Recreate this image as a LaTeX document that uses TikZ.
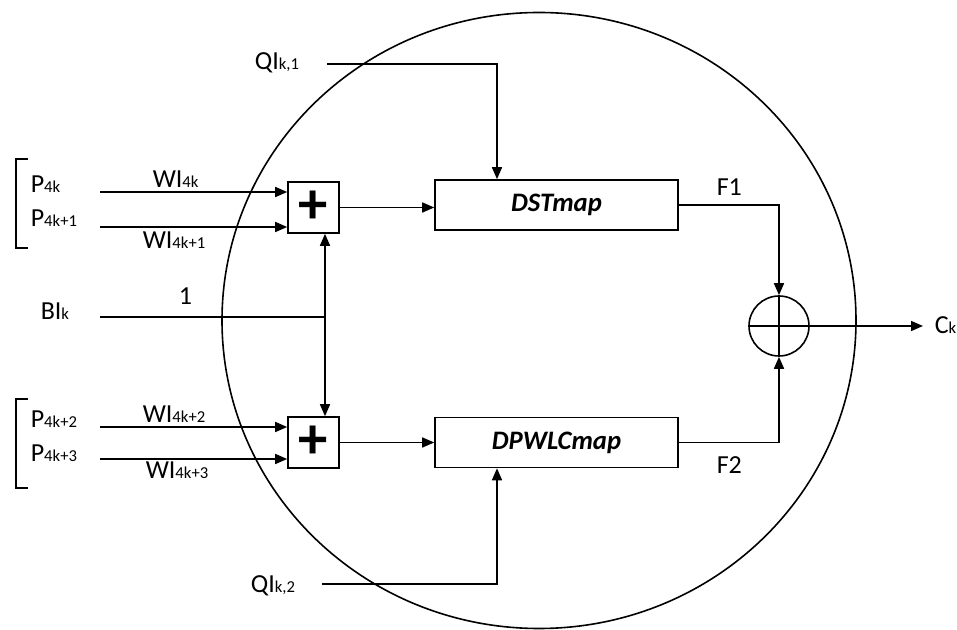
\documentclass[tikz,border=0pt]{standalone}
\usepackage{fontspec}
\setmainfont{Carlito}
\usetikzlibrary{arrows.meta,shapes.geometric}
\newcommand{\sbs}[1]{{\fontsize{12.5}{14}\selectfont #1}}
\begin{document}
\begin{tikzpicture}[x=0.75pt,y=-0.75pt,line width=1.2pt,
  arr/.style={-{Triangle[length=9pt,width=7.5pt]}},
  lbl/.style={font=\fontsize{19.5}{23}\selectfont,inner sep=0pt,anchor=base west},
  sumbox/.style={draw,fill=white,minimum width=38.25pt,minimum height=38.25pt,inner sep=0pt,font=\fontsize{44}{44}\selectfont\bfseries},
  mapbox/.style={draw,fill=white,minimum width=182.25pt,minimum height=37.5pt,inner sep=0pt,font=\fontsize{20}{24}\selectfont\bfseries\itshape},
  oplus/.style={draw,circle,minimum size=45pt,inner sep=0pt}]
\useasboundingbox (0,0) rectangle (957,630);
% enclosing ellipse
\node[ellipse,draw,minimum width=475.5pt,minimum height=462pt,inner sep=0pt] (env) at (539,320.5) {};
% blocks
\node[sumbox] (s1) at (313.5,207.5) {+};
\node[sumbox] (s2) at (313.5,442.5) {+};
\node[mapbox] (dst) at (556.5,205) {DSTmap};
\node[mapbox] (dpw) at (556.5,442.5) {DPWLCmap};
\node[oplus] (o) at (779,326) {};
% labels
\node[lbl] (lp0) at (30,193) {P\sbs{4k}};
\node[lbl] (lp1) at (30,227) {P\sbs{4k+1}};
\node[lbl] (lp2) at (30,428) {P\sbs{4k+2}};
\node[lbl] (lp3) at (30,462) {P\sbs{4k+3}};
\node[lbl] (lw0) at (152,188) {WI\sbs{4k}};
\node[lbl] (lw1) at (142,249) {WI\sbs{4k+1}};
\node[lbl] (lw2) at (142,423) {WI\sbs{4k+2}};
\node[lbl] (lw3) at (145,479) {WI\sbs{4k+3}};
\node[lbl] (lbi) at (40,320) {BI\sbs{k}};
\node[lbl] (lone) at (178,305) {1};
\node[lbl] (lq1) at (254,70) {QI\sbs{k,1}};
\node[lbl] (lq2) at (250,593) {QI\sbs{k,2}};
\node[lbl] (lf1) at (716,196) {F1};
\node[lbl] (lf2) at (716,474) {F2};
\node[lbl] (lck) at (934,334) {C\sbs{k}};
% brackets
\draw (28,159) -- (16,159) -- (16,248) -- (28,248);
\draw (28,399) -- (16,399) -- (16,488) -- (28,488);
% input coordinates
\coordinate (p0) at (100,192);
\coordinate (p1) at (100,227);
\coordinate (p2) at (100,427);
\coordinate (p3) at (100,459);
\coordinate (bi) at (100,317);
\coordinate (j) at (325,317);
\coordinate (q1) at (327,64);
\coordinate (q1c) at (497,64);
\coordinate (q2) at (322,584);
\coordinate (q2c) at (497,584);
\coordinate (ck) at (923,326);
% connectors
\draw[arr] (p0) -- (p0 -| s1.west);
\draw[arr] (p1) -- (p1 -| s1.west);
\draw[arr] (p2) -- (p2 -| s2.west);
\draw[arr] (p3) -- (p3 -| s2.west);
\draw (bi) -- (j);
\draw[arr] (j) -- (j |- s1.south);
\draw[arr] (j) -- (j |- s2.north);
\draw[arr] (q1) -- (q1c) -- (q1c |- dst.north);
\draw[arr] (q2) -- (q2c) -- (q2c |- dpw.south);
\draw[arr] (s1.east) -- (s1.east -| dst.west);
\draw[arr] (s2.east) -- (s2.east -| dpw.west);
\draw[arr] (dst.east) -| (o.north);
\draw[arr] (dpw.east) -| (o.south);
\draw (o.north) -- (o.south);
\draw (o.west) -- (o.east);
\draw[arr] (o.east) -- (ck);
\end{tikzpicture}
\end{document}
